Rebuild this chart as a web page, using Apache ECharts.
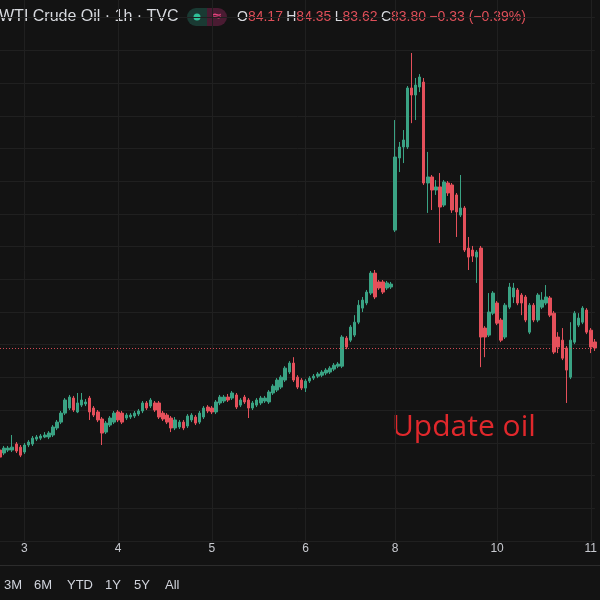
<!DOCTYPE html>
<html>
<head>
<meta charset="utf-8">
<script src="https://cdn.jsdelivr.net/npm/echarts@6/dist/echarts.min.js"></script>
<style>
  html, body { margin: 0; padding: 0; background: #131313; }
  #main { width: 600px; height: 600px; }
</style>
</head>
<body>
<div id="main"></div>
<script>
// hourly WTI candles
const opens = [
  77.56, 77.38, 77.56, 77.56, 77.93, 77.74, 77.44, 77.87, 77.93, 78.23,
  78.29, 78.36, 78.36, 78.48, 78.91, 79.27, 79.82, 80.13, 80.74, 79.89,
  80.31, 80.38, 80.74, 80.13, 79.89, 79.46, 78.66, 79.09, 79.27, 79.89,
  79.82, 79.52, 79.58, 79.64, 79.76, 79.95, 80.44, 80.25, 80.44, 80.44,
  79.82, 79.70, 79.52, 78.91, 78.97, 79.27, 79.03, 79.40, 79.58, 79.27,
  79.58, 80.19, 80.13, 79.89, 80.44, 80.56, 80.80, 80.74, 80.93, 80.31,
  80.80, 80.62, 80.13, 80.31, 80.44, 80.56, 80.50, 81.05, 81.23, 81.41,
  81.84, 82.33, 82.88, 82.02, 81.84, 81.35, 81.78, 81.96, 82.08, 82.14,
  82.27, 82.33, 82.51, 82.69, 82.69, 84.41, 84.28, 84.59, 85.38, 86.24,
  86.55, 87.16, 88.38, 87.84, 87.84, 87.47, 87.53, 91.01, 95.42, 96.09,
  96.09, 99.70, 99.27, 99.76, 100.06, 93.89, 94.26, 93.46, 93.65, 92.54,
  93.89, 93.77, 93.16, 91.93, 92.36, 89.91, 89.79, 89.36, 89.91, 85.02,
  84.59, 85.93, 86.55, 85.51, 84.47, 86.30, 86.92, 87.35, 87.04, 86.92,
  84.77, 86.42, 85.51, 86.30, 86.55, 86.86, 85.93, 84.47, 84.28, 83.80,
  82.02, 84.16, 85.20, 85.38, 86.12, 84.89, 84.17
];
const closes = [
  77.13, 77.68, 77.68, 77.74, 77.50, 77.25, 77.87, 78.05, 78.29, 78.36,
  78.42, 78.48, 78.60, 78.97, 79.27, 79.82, 80.62, 80.80, 80.01, 80.44,
  80.62, 80.50, 79.89, 79.70, 79.40, 78.60, 79.21, 79.52, 79.82, 79.40,
  79.27, 79.70, 79.70, 79.82, 79.95, 80.44, 80.13, 80.62, 80.01, 79.58,
  79.46, 79.27, 78.91, 79.40, 79.27, 78.91, 79.64, 79.70, 79.21, 79.82,
  80.13, 79.95, 79.89, 80.50, 80.80, 80.80, 80.62, 81.05, 80.19, 80.62,
  80.50, 80.13, 80.44, 80.62, 80.74, 80.74, 81.11, 81.47, 81.84, 82.02,
  82.57, 82.88, 81.84, 81.41, 81.35, 81.78, 81.96, 82.08, 82.21, 82.33,
  82.45, 82.57, 82.75, 82.82, 84.47, 83.86, 85.08, 85.38, 86.42, 86.73,
  87.22, 88.38, 86.92, 87.47, 87.22, 87.78, 87.71, 95.48, 96.09, 96.52,
  99.70, 99.27, 99.88, 100.37, 93.89, 94.26, 93.46, 93.65, 92.42, 93.95,
  93.28, 92.24, 92.12, 92.36, 89.79, 89.36, 89.42, 89.67, 84.47, 84.47,
  86.00, 87.16, 85.32, 84.28, 86.42, 87.53, 87.47, 86.55, 86.55, 85.51,
  86.42, 85.51, 87.04, 86.73, 86.92, 85.81, 83.55, 83.86, 83.18, 82.45,
  84.28, 85.93, 85.63, 86.24, 84.77, 83.86, 83.80
];
const lows = [
  77.01, 77.25, 77.44, 77.44, 77.38, 77.13, 77.32, 77.74, 77.81, 78.11,
  78.17, 78.29, 78.23, 78.36, 78.78, 79.15, 79.70, 80.01, 79.89, 79.82,
  80.19, 80.25, 79.40, 79.58, 79.27, 77.87, 78.54, 78.97, 79.15, 79.27,
  79.15, 79.40, 79.46, 79.52, 79.64, 79.82, 80.01, 80.13, 79.89, 79.46,
  79.34, 79.15, 78.66, 78.78, 78.85, 78.78, 78.91, 79.27, 79.09, 79.15,
  79.46, 79.82, 79.76, 79.76, 80.31, 80.44, 80.50, 80.62, 80.07, 80.19,
  80.38, 79.52, 80.01, 80.19, 80.31, 80.44, 80.38, 80.93, 81.11, 81.29,
  81.72, 82.21, 81.72, 81.29, 81.23, 81.11, 81.66, 81.84, 81.96, 82.02,
  82.14, 82.21, 82.39, 82.57, 82.57, 83.73, 84.16, 84.47, 85.26, 86.00,
  86.42, 87.04, 86.79, 87.35, 87.10, 87.35, 87.41, 90.89, 94.56, 95.11,
  95.97, 97.55, 97.74, 99.45, 93.77, 92.06, 92.24, 93.16, 90.22, 92.42,
  93.10, 92.06, 90.59, 91.81, 89.67, 88.57, 89.06, 87.78, 82.63, 83.24,
  84.47, 85.81, 85.20, 84.16, 84.35, 86.18, 86.55, 86.42, 85.81, 85.38,
  84.65, 85.38, 85.38, 86.18, 86.42, 85.69, 83.43, 83.49, 83.06, 80.44,
  81.90, 84.04, 85.08, 85.26, 84.65, 83.49, 83.62
];
const highs = [
  77.68, 77.81, 77.81, 78.48, 78.05, 77.87, 77.99, 78.17, 78.42, 78.48,
  78.54, 78.66, 78.72, 79.09, 79.40, 79.95, 80.74, 80.93, 80.87, 81.05,
  81.05, 80.68, 80.87, 80.25, 80.01, 79.58, 79.34, 79.64, 79.95, 80.01,
  79.95, 79.82, 79.82, 79.95, 80.07, 80.56, 80.56, 80.74, 80.56, 80.56,
  79.95, 79.82, 79.64, 79.58, 79.40, 79.40, 79.76, 79.82, 79.70, 79.95,
  80.25, 80.31, 80.25, 80.62, 80.93, 80.93, 80.99, 81.17, 81.05, 80.74,
  80.93, 80.74, 80.56, 80.74, 80.87, 80.87, 81.23, 81.59, 81.96, 82.14,
  82.69, 83.00, 83.24, 82.14, 81.96, 81.90, 82.08, 82.21, 82.33, 82.45,
  82.57, 82.69, 82.88, 82.94, 84.59, 84.53, 85.20, 85.81, 86.73, 86.92,
  87.35, 88.51, 88.57, 87.96, 87.96, 87.90, 87.84, 97.74, 96.40, 97.13,
  99.82, 101.84, 100.31, 100.55, 100.31, 95.79, 94.38, 94.07, 94.50, 94.07,
  94.01, 93.89, 93.28, 94.38, 92.48, 90.59, 90.04, 89.79, 90.04, 85.14,
  87.16, 87.28, 86.67, 85.63, 86.55, 87.78, 87.78, 87.47, 87.16, 87.04,
  86.55, 86.55, 87.16, 87.22, 87.65, 86.98, 86.06, 84.77, 85.02, 83.92,
  85.38, 86.06, 85.93, 86.36, 86.24, 85.02, 84.35
];

// day labels on the time axis and the bar where each one sits
const dayTickIndex = [6, 29, 52, 75, 97, 122, 145];
const dayTickLabel = ['3', '4', '5', '6', '8', '10', '11'];

const lastPrice = 83.80;
const rangeButtons = ['3M', '6M', 'YTD', '1Y', '5Y', 'All'];
const rangeButtonX = [4, 34, 67, 105, 134, 165];

const UP = '#3aa384';
const DOWN = '#e5505b';
const GRID = '#202020';

// category per hourly bar
const categories = opens.map((_, i) => {
  let k = -1;
  dayTickIndex.forEach((t, j) => { if (t <= i) k = j; });
  const day = k >= 0 ? dayTickLabel[k] : '2';
  const start = k >= 0 ? dayTickIndex[k] : -17;
  return day + ' ' + (i - start) + 'h';
});
const tickSet = new Set(dayTickIndex);

const candles = opens.map((o, i) => [o, closes[i], lows[i], highs[i]]);

const chart = echarts.init(document.getElementById('main'));

chart.setOption({
  backgroundColor: '#131313',
  animation: false,
  grid: { left: 0, right: 0, top: 0, height: 541 },
  xAxis: {
    type: 'category',
    data: categories,
    boundaryGap: false,
    axisLine: { show: false },
    axisTick: { show: false },
    axisLabel: {
      color: '#c8cad0',
      fontSize: 12,
      fontFamily: 'Liberation Sans',
      margin: 2,
      interval: (idx) => tickSet.has(idx),
      formatter: (value, idx) => {
        const k = dayTickIndex.indexOf(idx);
        return k >= 0 ? dayTickLabel[k] : '';
      }
    },
    splitLine: {
      show: true,
      interval: (idx) => tickSet.has(idx),
      lineStyle: { color: GRID, width: 1 }
    }
  },
  yAxis: {
    type: 'value',
    position: 'right',
    min: 72,
    max: 105.08,
    interval: 2,
    axisLine: { show: false },
    axisTick: { show: false },
    axisLabel: { show: false },
    splitLine: { show: true, showMaxLine: false, lineStyle: { color: GRID, width: 1 } }
  },
  series: [{
    type: 'candlestick',
    data: candles,
    barWidth: 3,
    itemStyle: {
      color: UP,
      color0: DOWN,
      borderColor: UP,
      borderColor0: DOWN,
      borderWidth: 1
    },
    markLine: {
      silent: true,
      symbol: 'none',
      label: { show: false },
      lineStyle: { color: DOWN, type: [1, 2], width: 1, opacity: 0.9 },
      data: [{ yAxis: lastPrice }]
    }
  }],
  graphic: [
    {
      type: 'text', x: -1, y: 17,
      style: {
        text: 'WTI Crude Oil · 1h · TVC',
        fill: '#d8dadf',
        font: '16px "Liberation Sans"',
        verticalAlign: 'middle'
      }
    },
    {
      type: 'rect', shape: { x: 187, y: 8, width: 20, height: 18, r: [9, 0, 0, 9] },
      style: { fill: '#1a3a33' }
    },
    {
      type: 'rect', shape: { x: 207, y: 8, width: 20, height: 18, r: [0, 9, 9, 0] },
      style: { fill: '#4a1b32' }
    },
    {
      type: 'circle', shape: { cx: 197, cy: 17, r: 3.5 },
      style: { fill: '#2fc197' }
    },
    {
      type: 'text', x: 217, y: 17,
      style: {
        text: '≈', fill: '#e2447c', font: 'bold 13px "DejaVu Sans"',
        align: 'center', verticalAlign: 'middle'
      }
    },
    {
      type: 'text', x: 237, y: 17,
      style: {
        text: '{t|O}{r|84.17} {t|H}{r|84.35} {t|L}{r|83.62} {t|C}{r|83.80} {r|−0.33 (−0.39%)}',
        verticalAlign: 'middle',
        rich: {
          t: { fill: '#d8dadf', font: '14px "Liberation Sans"' },
          r: { fill: '#de4f59', font: '14px "Liberation Sans"' }
        }
      }
    },
    {
      type: 'text', x: 392, y: 427,
      style: {
        text: 'Update oil',
        fill: '#e0282c',
        font: '30px "Open Sans"',
        verticalAlign: 'middle'
      }
    },
    {
      type: 'line', shape: { x1: 0, y1: 565.5, x2: 600, y2: 565.5 },
      style: { stroke: '#2c2c2c', lineWidth: 1 }
    }
  ].concat(rangeButtons.map((b, i) => ({
    type: 'text', x: rangeButtonX[i], y: 585,
    style: {
      text: b, fill: '#d1d4dc', font: '13px "Liberation Sans"',
      verticalAlign: 'middle'
    }
  })))
});
</script>
</body>
</html>
